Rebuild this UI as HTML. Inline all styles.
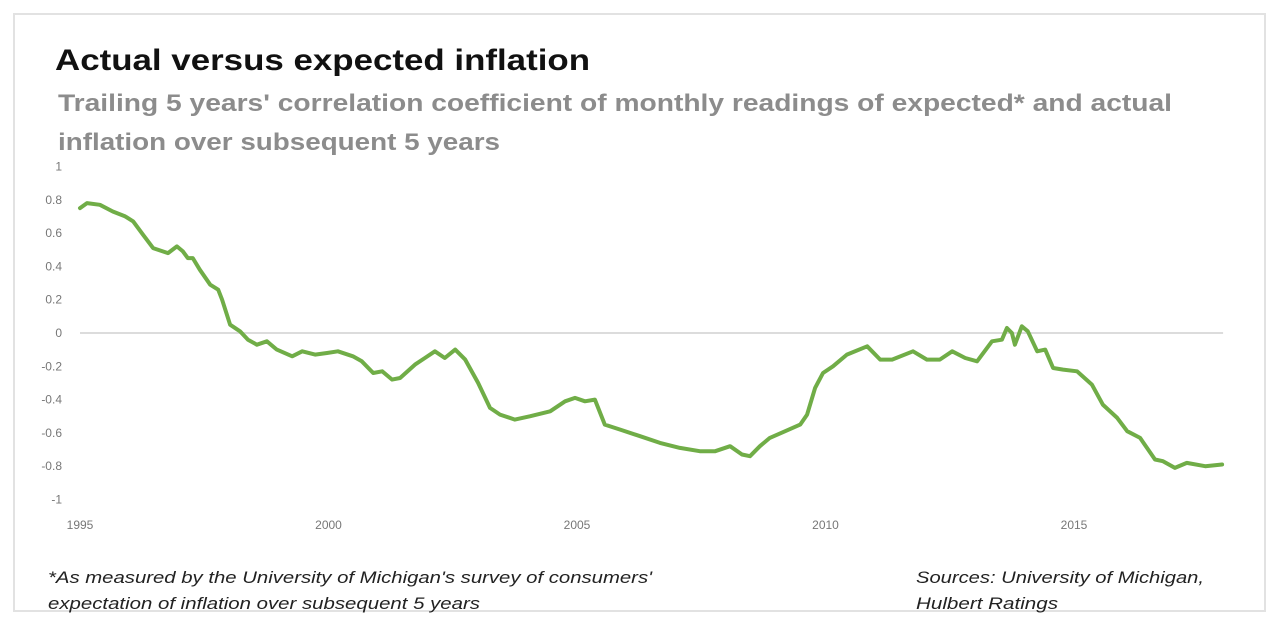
<!DOCTYPE html>
<html><head><meta charset="utf-8"><style>
html,body{margin:0;padding:0;background:#fff;}
svg{display:block;font-family:"Liberation Sans",sans-serif;}
</style></head><body>
<svg id="chart" width="1280" height="629" viewBox="0 0 1280 629">
<rect x="14" y="14" width="1251" height="597" fill="#fff" stroke="#e2e2e2" stroke-width="2"/>
<text x="55" y="70" font-size="30" font-weight="bold" fill="#111" textLength="535" lengthAdjust="spacingAndGlyphs">Actual versus expected inflation</text>
<text x="58" y="111" font-size="24" font-weight="bold" fill="#8c8c8c" textLength="1114" lengthAdjust="spacingAndGlyphs">Trailing 5 years' correlation coefficient of monthly readings of expected* and actual</text>
<text x="58" y="150" font-size="24" font-weight="bold" fill="#8c8c8c" textLength="442" lengthAdjust="spacingAndGlyphs">inflation over subsequent 5 years</text>
<g id="yaxis"></g>
<g id="xaxis"></g>
<g id="plot"></g>
<text x="48" y="583" font-size="17" font-style="italic" fill="#222" textLength="604" lengthAdjust="spacingAndGlyphs">*As measured by the University of Michigan's survey of consumers'</text>
<text x="48" y="609" font-size="17" font-style="italic" fill="#222" textLength="432" lengthAdjust="spacingAndGlyphs">expectation of inflation over subsequent 5 years</text>
<text x="916" y="583" font-size="17" font-style="italic" fill="#222" textLength="288" lengthAdjust="spacingAndGlyphs">Sources: University of Michigan,</text>
<text x="916" y="609" font-size="17" font-style="italic" fill="#222" textLength="142" lengthAdjust="spacingAndGlyphs">Hulbert Ratings</text>
</svg>
<script>
const yearTicks = [1995, 2000, 2005, 2010, 2015];
const valueTicks = [1, 0.8, 0.6, 0.4, 0.2, 0, -0.2, -0.4, -0.6, -0.8, -1];
const valueTickLabels = ["1","0.8","0.6","0.4","0.2","0","-0.2","-0.4","-0.6","-0.8","-1"];
const years = [1995.0,1995.14,1995.40,1995.66,1995.91,1996.07,1996.27,1996.47,1996.77,1996.95,1997.07,1997.17,1997.27,1997.41,1997.62,1997.78,1997.86,1998.02,1998.22,1998.38,1998.56,1998.76,1998.96,1999.27,1999.47,1999.73,1999.97,2000.19,2000.49,2000.67,2000.90,2001.08,2001.28,2001.44,2001.74,2001.94,2002.14,2002.34,2002.55,2002.75,2003.01,2003.25,2003.45,2003.75,2004.05,2004.46,2004.76,2004.96,2005.16,2005.36,2005.56,2005.87,2006.27,2006.67,2007.07,2007.47,2007.78,2008.08,2008.32,2008.48,2008.68,2008.88,2009.19,2009.49,2009.63,2009.79,2009.95,2010.15,2010.43,2010.84,2011.10,2011.34,2011.76,2012.04,2012.30,2012.55,2012.81,2013.05,2013.35,2013.55,2013.65,2013.75,2013.81,2013.95,2014.07,2014.26,2014.42,2014.58,2014.78,2015.06,2015.36,2015.58,2015.87,2016.07,2016.33,2016.63,2016.79,2017.03,2017.27,2017.64,2017.98];
const correlation = [0.75,0.78,0.77,0.73,0.70,0.67,0.59,0.51,0.48,0.52,0.49,0.45,0.45,0.38,0.29,0.26,0.20,0.05,0.01,-0.04,-0.07,-0.05,-0.10,-0.14,-0.11,-0.13,-0.12,-0.11,-0.14,-0.17,-0.24,-0.23,-0.28,-0.27,-0.19,-0.15,-0.11,-0.15,-0.10,-0.16,-0.30,-0.45,-0.49,-0.52,-0.50,-0.47,-0.41,-0.39,-0.41,-0.40,-0.55,-0.58,-0.62,-0.66,-0.69,-0.71,-0.71,-0.68,-0.73,-0.74,-0.68,-0.63,-0.59,-0.55,-0.49,-0.33,-0.24,-0.20,-0.13,-0.08,-0.16,-0.16,-0.11,-0.16,-0.16,-0.11,-0.15,-0.17,-0.05,-0.04,0.03,0.0,-0.07,0.04,0.01,-0.11,-0.10,-0.21,-0.22,-0.23,-0.31,-0.43,-0.51,-0.59,-0.63,-0.76,-0.77,-0.81,-0.78,-0.80,-0.79];

const NS = "http://www.w3.org/2000/svg";
function xScale(yr){ return 80 + (yr - 1995) * 49.7; }
function yScale(v){ return 333 - v * 166.5; }

const yaxis = document.getElementById('yaxis');
valueTicks.forEach((v, i) => {
  const t = document.createElementNS(NS, 'text');
  t.setAttribute('x', 62); t.setAttribute('y', yScale(v) + 4);
  t.setAttribute('text-anchor', 'end'); t.setAttribute('font-size', '12');
  t.setAttribute('fill', '#777');
  t.textContent = valueTickLabels[i];
  
  
  yaxis.appendChild(t);
});
const xaxis = document.getElementById('xaxis');
yearTicks.forEach(yr => {
  const t = document.createElementNS(NS, 'text');
  t.setAttribute('x', xScale(yr)); t.setAttribute('y', 529);
  t.setAttribute('text-anchor', 'middle'); t.setAttribute('font-size', '12');
  t.setAttribute('fill', '#777');
  t.textContent = String(yr);
  
  
  xaxis.appendChild(t);
});
const plot = document.getElementById('plot');
const zero = document.createElementNS(NS, 'line');
zero.setAttribute('x1', xScale(1995)); zero.setAttribute('x2', xScale(2018));
zero.setAttribute('y1', yScale(0)); zero.setAttribute('y2', yScale(0));
zero.setAttribute('stroke', '#dcdcdc'); zero.setAttribute('stroke-width', '2');


plot.appendChild(zero);
const path = document.createElementNS(NS, 'path');
path.setAttribute('d', years.map((yr, i) => (i ? 'L' : 'M') + xScale(yr).toFixed(1) + ' ' + yScale(correlation[i]).toFixed(1)).join(' '));
path.setAttribute('fill', 'none'); path.setAttribute('stroke', '#70ad47');
path.setAttribute('stroke-width', '4'); path.setAttribute('stroke-linejoin', 'round');
path.setAttribute('stroke-linecap', 'round');


plot.appendChild(path);
</script>
</body></html>
